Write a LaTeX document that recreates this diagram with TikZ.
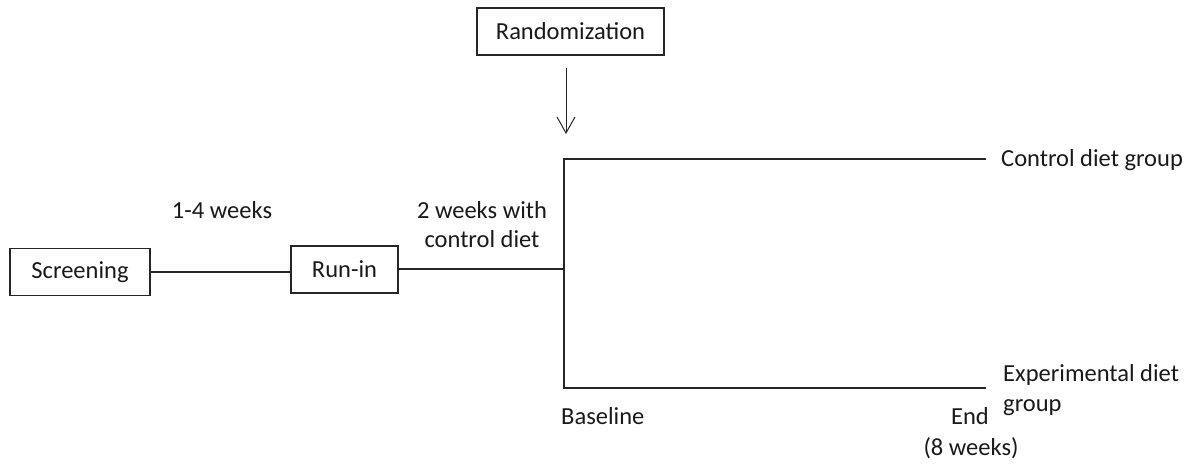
\documentclass[tikz,border=0pt]{standalone}
\usepackage{fontspec}
\setmainfont{Carlito}
\usetikzlibrary{arrows.meta}

\tikzset{
	box/.style={draw=black!85,line width=1.3pt,minimum height=47pt,inner sep=0pt},
	txt/.style={inner sep=0pt,font=\fontsize{24.5}{29.5}\selectfont,text=black!90},
	link/.style={draw=black!85,line width=1.3pt}
}

\begin{document}
\begin{tikzpicture}[x=1pt,y=-1pt]
	\useasboundingbox (0,0) rectangle (1196,464);
	\node[box,txt,minimum width=140pt] (screen) at (80,272) {Screening};
	\node[box,txt,minimum width=107pt] (runin) at (344.5,269.5) {Run-in};
	\node[box,txt,minimum width=187pt] (rand) at (570.5,31.5) {Randomization};
	\coordinate (arrtop) at (566,68);
	\coordinate (arrtip) at (566,134);
	\coordinate (split) at (564,269);
	\coordinate (ctrlstart) at (564,159);
	\coordinate (ctrlend) at (986,159);
	\coordinate (expstart) at (564,388);
	\coordinate (expend) at (986,388);
	\draw[link] (screen.east) -- (screen.east -| runin.west);
	\draw[link] (runin.east |- split) -- (split);
	\draw[link] (ctrlend) -- (ctrlstart) -- (expstart) -- (expend);
	\draw[link,line width=1pt,-{Straight Barb[length=16pt,width=18pt]}] (arrtop) -- (arrtip);
	\node[txt] (weeks) at (222,210) {1-4 weeks};
	\node[txt,align=center] (runinlbl) at (482,224.5) {2 weeks with\\control diet};
	\node[txt,anchor=west] (ctrl) at (1001,160) {Control diet group};
	\node[txt,anchor=west,align=left] (exp) at (1003,390) {Experimental diet\\group};
	\node[txt,anchor=west] (base) at (561,416) {Baseline};
	\node[txt,anchor=east] (fin) at (989,416) {End};
	\node[txt] (finweeks) at (971,448) {(8 weeks)};
\end{tikzpicture}
\end{document}
